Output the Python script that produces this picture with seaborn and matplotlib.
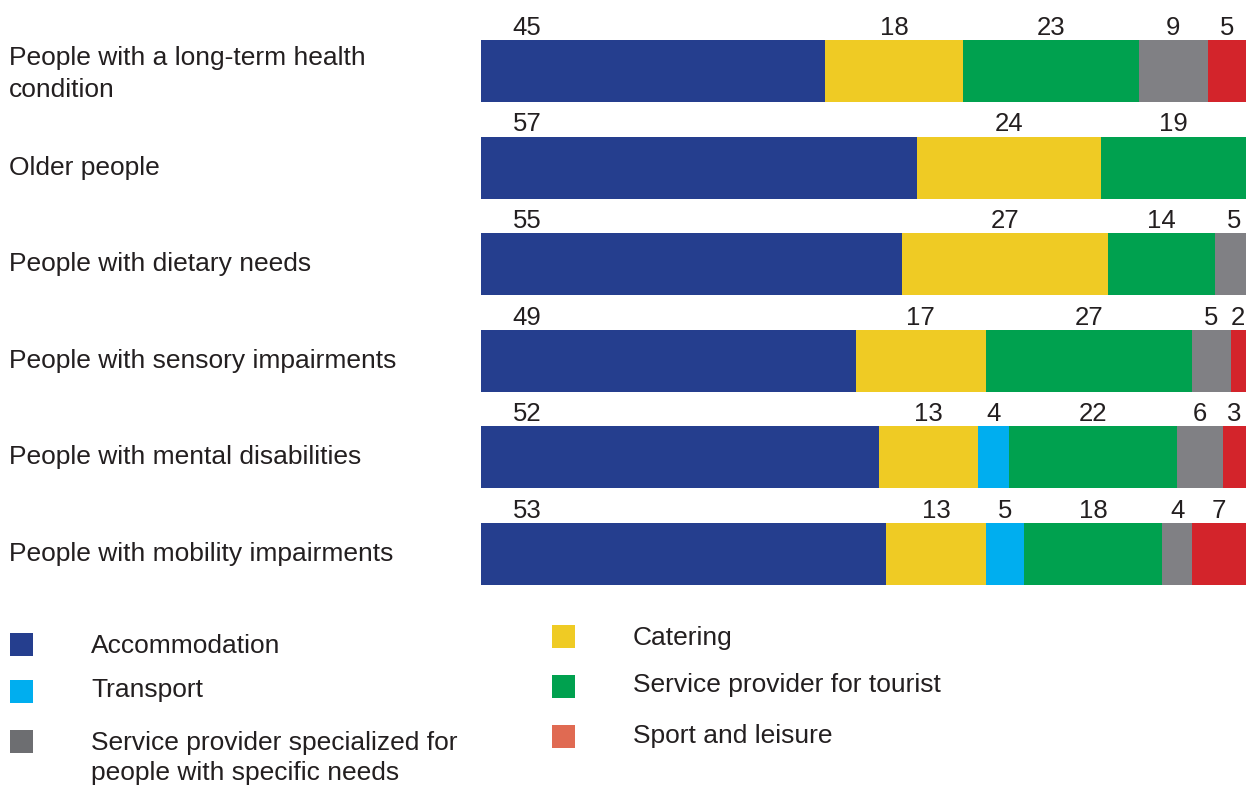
import matplotlib
matplotlib.use("Agg")
import matplotlib.pyplot as plt
from matplotlib.patches import Rectangle
import numpy as np
import pandas as pd
import seaborn as sns

groups = [
    "People with a long-term health\ncondition",
    "Older people",
    "People with dietary needs",
    "People with sensory impairments",
    "People with mental disabilities",
    "People with mobility impairments",
]
series = [
    "Accommodation",
    "Catering",
    "Transport",
    "Service provider for tourist",
    "Service provider specialized for\npeople with specific needs",
    "Sport and leisure",
]
accommodation = [45, 57, 55, 49, 52, 53]
catering = [18, 24, 27, 17, 13, 13]
transport = [0, 0, 0, 0, 4, 5]
tourist_services = [23, 19, 14, 27, 22, 18]
specialized_services = [9, 0, 5, 5, 6, 4]
sport_leisure = [5, 0, 0, 2, 3, 7]

bar_colors = ["#253E8E", "#EFCB24", "#00AEEF", "#00A14F", "#808084", "#D3242B"]
legend_colors = ["#253E8E", "#EFCB24", "#00AEEF", "#00A14F", "#6D6E71", "#E06A52"]
text_color = "#231F20"

values = np.array([accommodation, catering, transport, tourist_services,
                   specialized_services, sport_leisure], dtype=float)
cum = np.cumsum(values, axis=0)

sns.set_theme(style="white")
plt.rcParams["font.family"] = ["Liberation Sans", "DejaVu Sans"]

W, H = 1246, 790
fig = plt.figure(figsize=(W / 100, H / 100), dpi=100)
ax = fig.add_axes([481 / W, 1 - 602.3 / H, 765 / W, 579.6 / H])

labels_short = [g.replace("\n", " ") for g in groups]
# Stacked bars: draw cumulative totals from the last series back to the first
for i in range(len(series) - 1, -1, -1):
    df = pd.DataFrame({"group": labels_short, "total": cum[i]})
    sns.barplot(data=df, x="total", y="group", order=labels_short, orient="h",
                color=bar_colors[i], saturation=1, width=0.64, ax=ax,
                linewidth=0, edgecolor="none")

ax.set_xlim(0, 100)
ax.set_ylim(5.5, -0.5)
ax.axis("off")

# Value labels above each segment
for r in range(len(groups)):
    left = 0.0
    for i in range(len(series)):
        v = values[i, r]
        if v > 0:
            xc = 6 if i == 0 else min(left + v / 2, 100 - 1.0)
            ax.text(xc, r - 0.32 - 0.055, f"{int(v)}", ha="center", va="baseline",
                    fontsize=18.5, color=text_color)
        left += v

# Category labels on the left
for r, g in enumerate(groups):
    y_disp = ax.transData.transform((0, r))[1]
    offset = 3 if "\n" in g else 0
    fig.text(9 / W, (y_disp - offset) / H, g, ha="left", va="center", fontsize=19,
             color=text_color, linespacing=1.42)

# Legend
legend_items = [
    (0, 10, 644, 91, 646),
    (2, 10, 691, 91, 690),
    (4, 10, 741, 91, 758),
    (1, 552, 636, 633, 638),
    (3, 552, 686, 633, 685),
    (5, 552, 736, 633, 736),
]
sq = 23
for idx, sx, sy, tx, ty in legend_items:
    fig.patches.append(Rectangle((sx / W, 1 - (sy + sq / 2) / H), sq / W, sq / H,
                                 transform=fig.transFigure, facecolor=legend_colors[idx],
                                 edgecolor="none"))
    fig.text(tx / W, 1 - ty / H, series[idx], ha="left", va="center", fontsize=19,
             color=text_color, linespacing=1.35)

fig.savefig("out.png", dpi=100)
